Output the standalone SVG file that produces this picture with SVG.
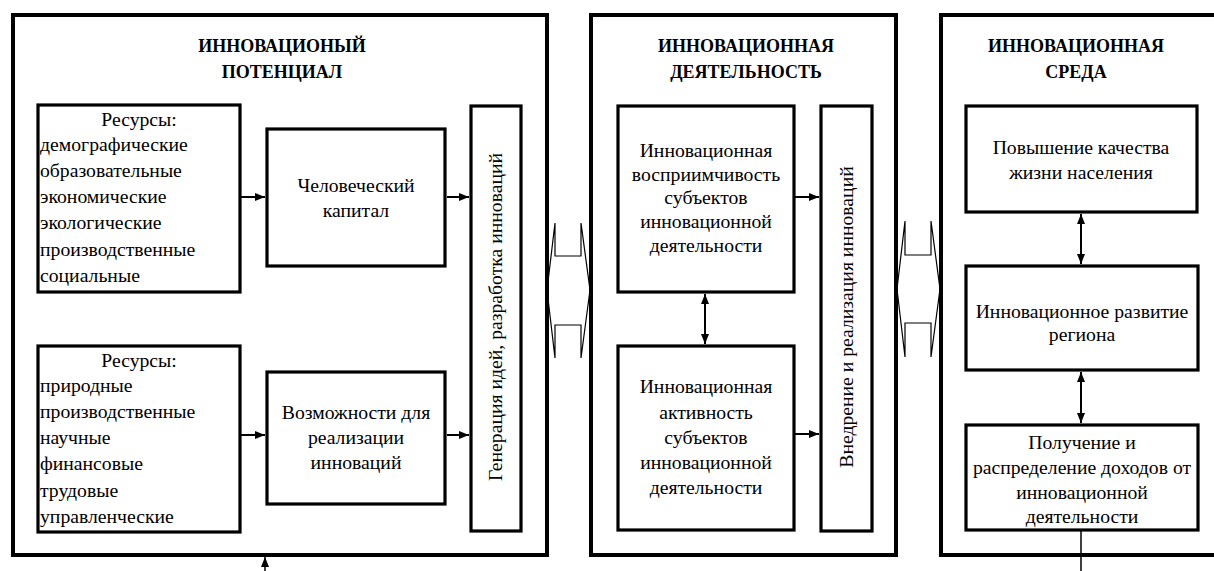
<svg xmlns="http://www.w3.org/2000/svg" width="1214" height="571" viewBox="0 0 1214 571" font-family="Liberation Serif, DejaVu Serif, serif">
<style>
.panel{fill:none;stroke:#000;stroke-width:4}
.box{fill:#fff;stroke:#000;stroke-width:3.2}
.t{font-size:19.7px;fill:#000}
.c{text-anchor:middle}
.h{font-size:18px;font-weight:bold;fill:#000;text-anchor:middle}
.ln{stroke:#000;stroke-width:2;fill:none}
.thin{stroke:#000;stroke-width:1.5;fill:none}
.blk{fill:#fff;stroke:#000;stroke-width:1.2;stroke-linejoin:miter}
</style>
<defs>
<marker id="ah" markerUnits="userSpaceOnUse" markerWidth="11" markerHeight="9" refX="10" refY="4" orient="auto-start-reverse">
<path d="M0,0 L10,4 L0,8 z" fill="#000"/>
</marker>
</defs>
<rect x="0" y="0" width="1214" height="571" fill="#fff"/>

<g id="connectors">
<polygon class="blk" points="547,290 555,223 555,256 581,256 581,223 590,290 581,358 581,325 555,325 555,358"/>
<polygon class="blk" points="897,289 905,221 905,255 931,255 931,221 940,289 931,357 931,323 905,323 905,357"/>
<line class="ln" x1="241" y1="197" x2="265" y2="197" marker-end="url(#ah)"/>
<line class="ln" x1="447" y1="197" x2="469" y2="197" marker-end="url(#ah)"/>
<line class="ln" x1="241" y1="435" x2="265" y2="435" marker-end="url(#ah)"/>
<line class="ln" x1="447" y1="435" x2="469" y2="435" marker-end="url(#ah)"/>
<line class="ln" x1="795" y1="197" x2="819" y2="197" marker-end="url(#ah)"/>
<line class="ln" x1="795" y1="434" x2="819" y2="434" marker-end="url(#ah)"/>
<line class="ln" x1="705" y1="294" x2="705" y2="344" marker-start="url(#ah)" marker-end="url(#ah)"/>
<line class="ln" x1="1081" y1="214" x2="1081" y2="264" marker-start="url(#ah)" marker-end="url(#ah)"/>
<line class="ln" x1="1081" y1="372" x2="1081" y2="423" marker-start="url(#ah)" marker-end="url(#ah)"/>
<line class="thin" x1="265" y1="571" x2="265" y2="557" marker-end="url(#ah)"/>
<line class="thin" x1="1081" y1="531" x2="1081" y2="571"/>
</g>

<g id="panel-potential">
<rect class="panel" x="13" y="15" width="534" height="540"/>
<text class="h" x="282" y="52">ИННОВАЦИОНЫЙ</text>
<text class="h" x="282" y="78">ПОТЕНЦИАЛ</text>
</g>
<g id="panel-activity">
<rect class="panel" x="591" y="15" width="305" height="540"/>
<text class="h" x="746" y="52">ИННОВАЦИОННАЯ</text>
<text class="h" x="746" y="78">ДЕЯТЕЛЬНОСТЬ</text>
</g>
<g id="panel-environment">
<rect class="panel" x="941" y="15" width="280" height="540"/>
<text class="h" x="1076" y="52">ИННОВАЦИОННАЯ</text>
<text class="h" x="1076" y="78">СРЕДА</text>
</g>

<g id="resources-1">
<rect class="box" x="38" y="105" width="202" height="187"/>
<text class="t c" x="139" y="126">Ресурсы:</text>
<text class="t" x="40" y="151">демографические</text>
<text class="t" x="40" y="177">образовательные</text>
<text class="t" x="40" y="203">экономические</text>
<text class="t" x="40" y="229">экологические</text>
<text class="t" x="40" y="256">производственные</text>
<text class="t" x="40" y="282">социальные</text>
</g>
<g id="resources-2">
<rect class="box" x="38" y="346" width="202" height="186"/>
<text class="t c" x="139" y="367">Ресурсы:</text>
<text class="t" x="40" y="392">природные</text>
<text class="t" x="40" y="418">производственные</text>
<text class="t" x="40" y="444">научные</text>
<text class="t" x="40" y="470">финансовые</text>
<text class="t" x="40" y="497">трудовые</text>
<text class="t" x="40" y="523">управленческие</text>
</g>
<g id="human-capital">
<rect class="box" x="267" y="129" width="178" height="137"/>
<text class="t c" x="356" y="192">Человеческий</text>
<text class="t c" x="356" y="217">капитал</text>
</g>
<g id="opportunities">
<rect class="box" x="267" y="372" width="178" height="132"/>
<text class="t c" x="356" y="419">Возможности для</text>
<text class="t c" x="356" y="444">реализации</text>
<text class="t c" x="356" y="469">инноваций</text>
</g>
<g id="generation">
<rect class="box" x="471" y="106" width="50" height="425"/>
<text class="t c" transform="translate(502,317) rotate(-90)">Генерация идей, разработка инноваций</text>
</g>

<g id="receptivity">
<rect class="box" x="618" y="106" width="176" height="186"/>
<text class="t c" x="706" y="157">Инновационная</text>
<text class="t c" x="706" y="181">восприимчивость</text>
<text class="t c" x="706" y="204">субъектов</text>
<text class="t c" x="706" y="228">инновационной</text>
<text class="t c" x="706" y="252">деятельности</text>
</g>
<g id="activity">
<rect class="box" x="618" y="346" width="176" height="184"/>
<text class="t c" x="706" y="393">Инновационная</text>
<text class="t c" x="706" y="419">активность</text>
<text class="t c" x="706" y="444">субъектов</text>
<text class="t c" x="706" y="469">инновационной</text>
<text class="t c" x="706" y="494">деятельности</text>
</g>
<g id="implementation">
<rect class="box" x="821" y="106" width="51" height="425"/>
<text class="t c" transform="translate(853,317) rotate(-90)">Внедрение и реализация инноваций</text>
</g>

<g id="quality-of-life">
<rect class="box" x="966" y="106" width="231" height="106"/>
<text class="t c" x="1081" y="154">Повышение качества</text>
<text class="t c" x="1081" y="179">жизни населения</text>
</g>
<g id="regional-development">
<rect class="box" x="966" y="266" width="232" height="104"/>
<text class="t c" x="1082" y="318">Инновационное развитие</text>
<text class="t c" x="1082" y="341">региона</text>
</g>
<g id="income">
<rect class="box" x="966" y="425" width="232" height="105"/>
<text class="t c" x="1082" y="449">Получение и</text>
<text class="t c" x="1082" y="474">распределение доходов от</text>
<text class="t c" x="1082" y="499">инновационной</text>
<text class="t c" x="1082" y="523">деятельности</text>
</g>
</svg>
